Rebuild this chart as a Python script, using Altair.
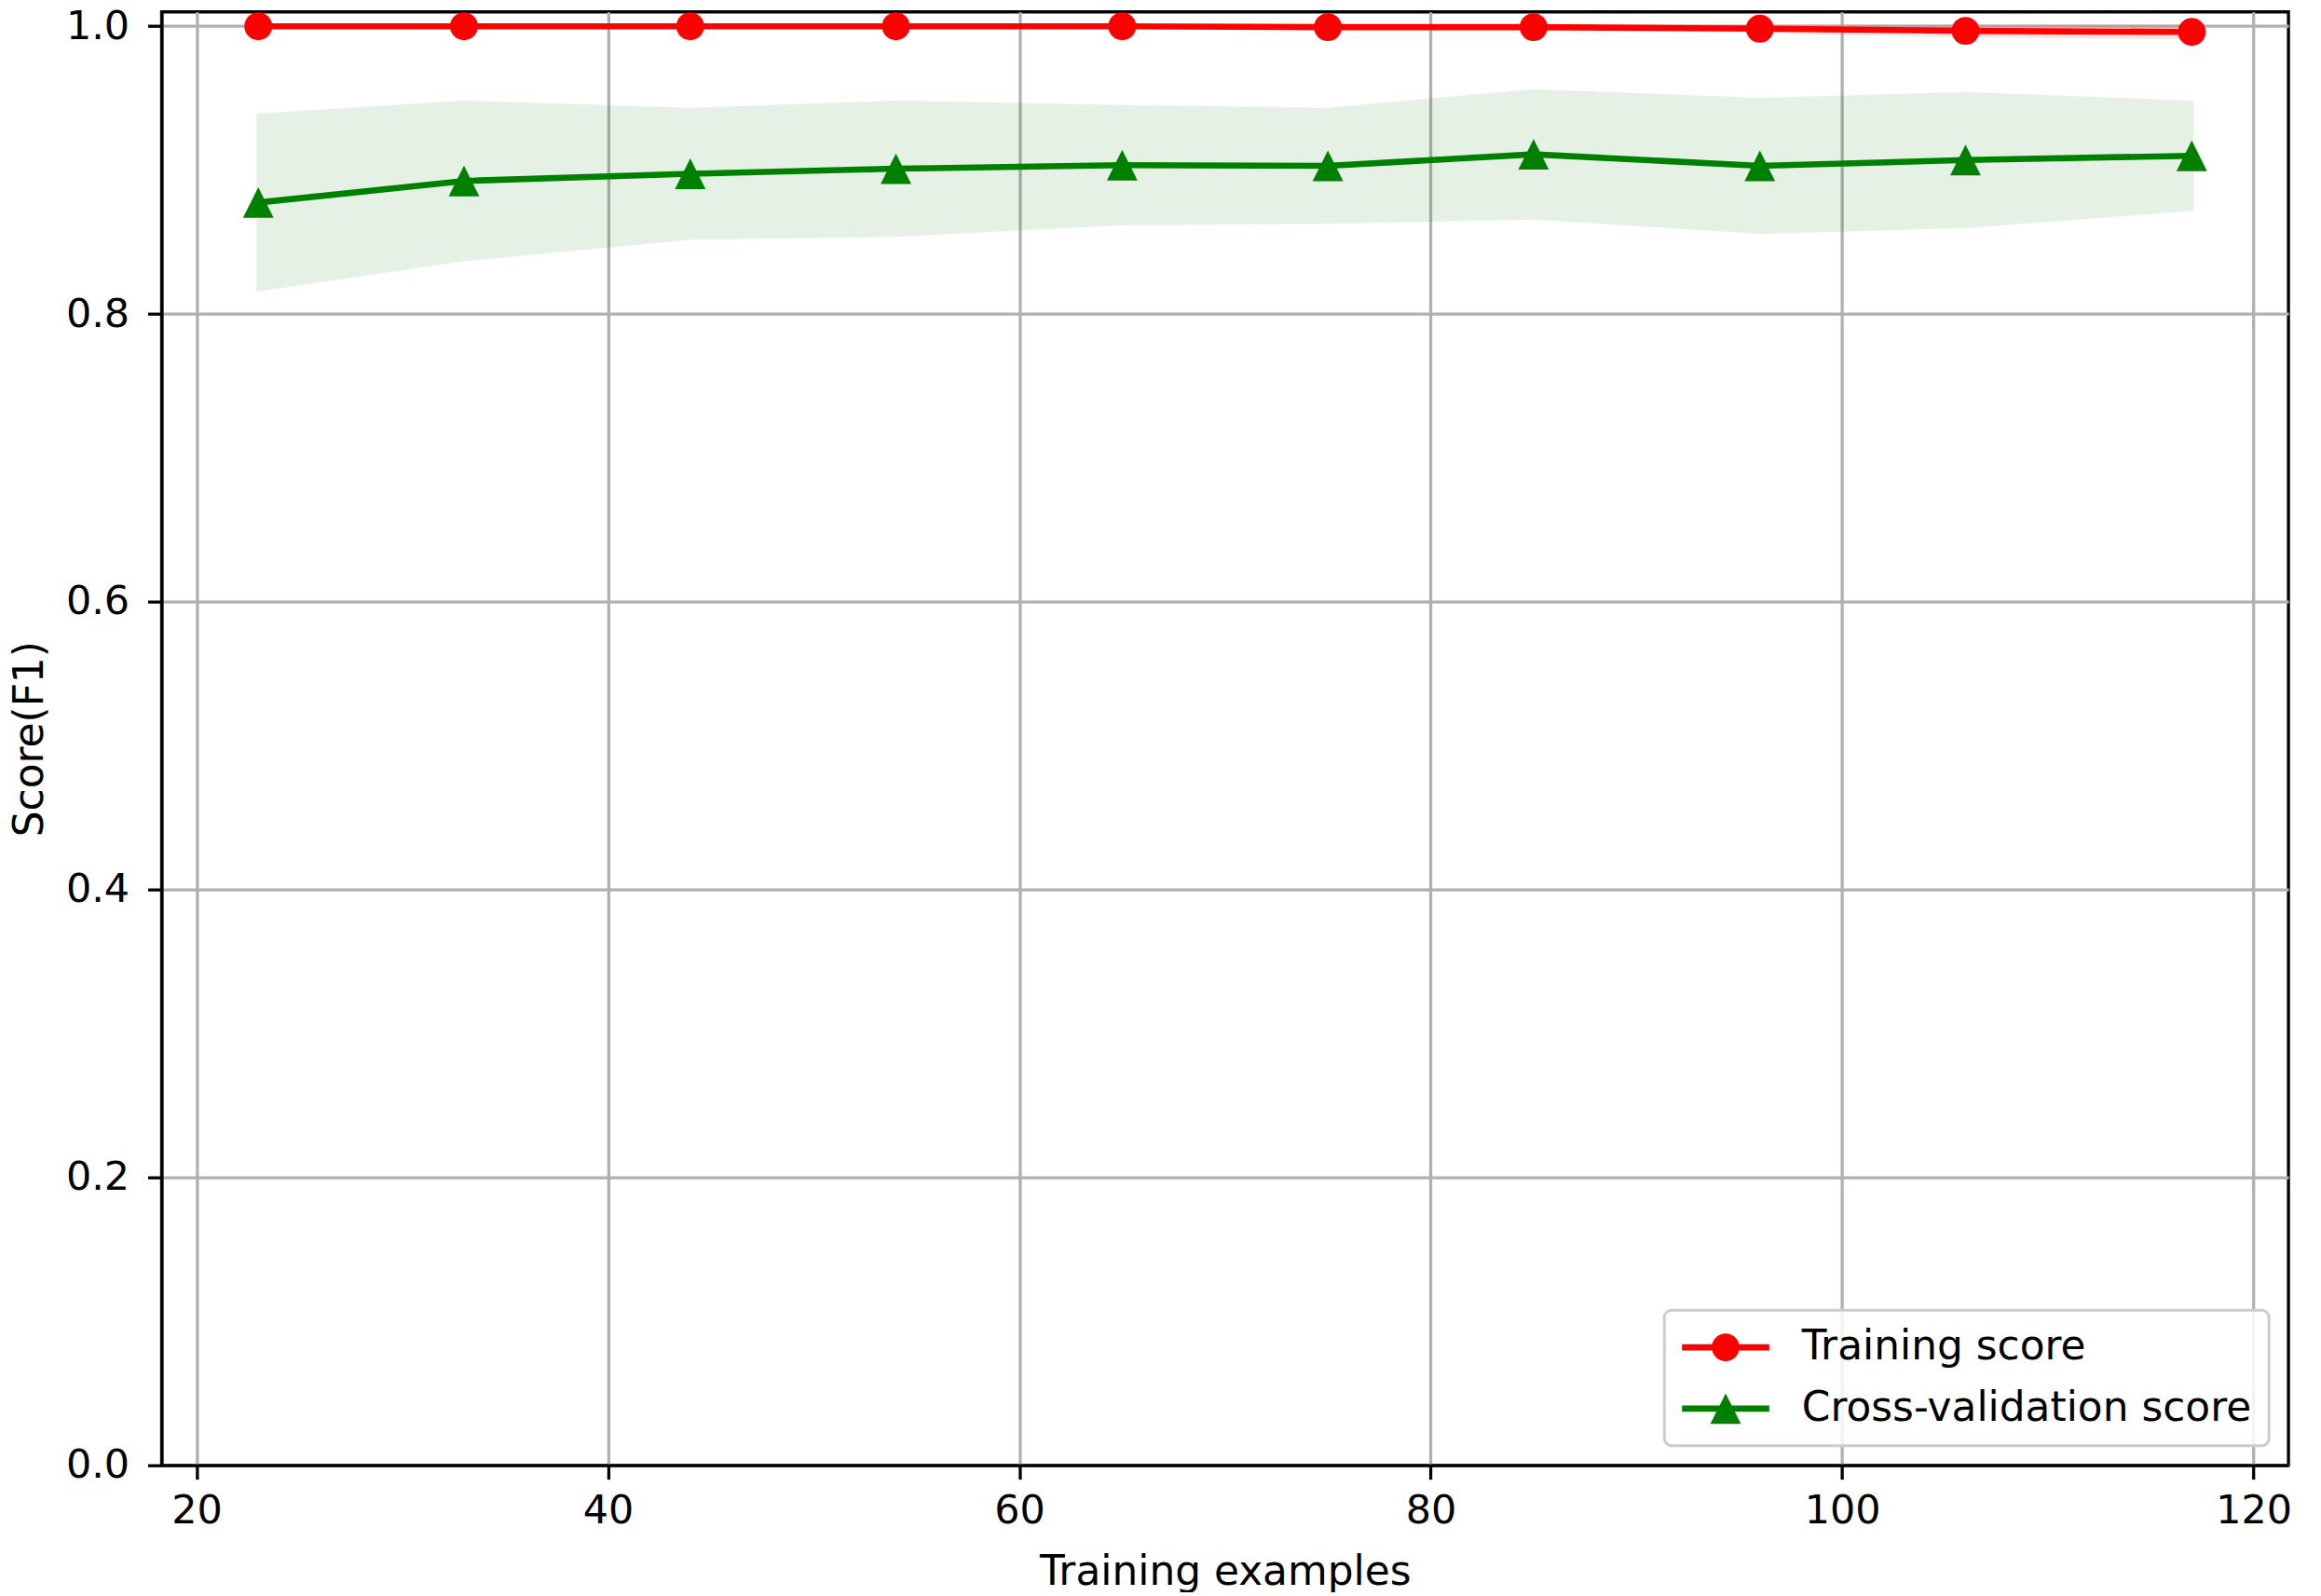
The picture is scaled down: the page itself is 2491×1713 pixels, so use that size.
import altair as alt
import pandas as pd

# ---- data ----
train_sizes = [23, 33, 44, 54, 65, 75, 85, 96, 106, 117]
train_mean = [1.0, 1.0, 1.0, 1.0, 1.0, 0.9994, 0.9994, 0.9983, 0.9968, 0.9961]
train_std = [0.0, 0.0, 0.0, 0.0, 0.0, 0.0008, 0.0008, 0.0017, 0.0032, 0.0039]
test_mean = [0.8775, 0.8925, 0.8975, 0.901, 0.9035, 0.903, 0.911, 0.903, 0.907, 0.910]
test_std = [0.0605, 0.0545, 0.0445, 0.046, 0.0405, 0.039, 0.044, 0.046, 0.046, 0.037]
series_names = ["Training score", "Cross-validation score"]
series_colors = ["#ff0000", "#008000"]
x_ticks = [20, 40, 60, 80, 100, 120]
y_ticks = [0.0, 0.2, 0.4, 0.6, 0.8, 1.0]

train_df = pd.DataFrame({
    "n": train_sizes,
    "score": train_mean,
    "lo": [m - s for m, s in zip(train_mean, train_std)],
    "hi": [m + s for m, s in zip(train_mean, train_std)],
})
test_df = pd.DataFrame({
    "n": train_sizes,
    "score": test_mean,
    "lo": [m - s for m, s in zip(test_mean, test_std)],
    "hi": [m + s for m, s in zip(test_mean, test_std)],
})
legend_df = pd.DataFrame({
    "series": series_names,
    "n": [train_sizes[0], train_sizes[0]],
    "score": [train_mean[0], test_mean[0]],
})

FONT = "DejaVu Sans"
# legend symbols: line + marker (unit = 22 px with symbolSize 44^2)
circle_legend = ("M-2.136,-0.155H2.136V0.155H-2.136Z "
                 "M-0.682,0A0.682,0.682 0 1,1 0.682,0A0.682,0.682 0 1,1 -0.682,0Z")
triangle_legend = ("M-2.136,-0.155H2.136V0.155H-2.136Z "
                   "M0,-0.75L0.75,0.75L-0.75,0.75Z")
triangle_marker = "M0,-1L1,1L-1,1Z"

y_scale = alt.Scale(domain=[0, 1.01], nice=False, zero=False)
x_enc = alt.X(
    "n:Q",
    scale=alt.Scale(domain=[18.3, 121.7], nice=False, zero=False),
    axis=alt.Axis(values=x_ticks, title="Training examples", format="d",
                  labelPadding=13, titlePadding=22),
)
y_axis = alt.Axis(values=y_ticks, title="Score(F1)", format=".1f",
                  labelPadding=20, titlePadding=16)
y_enc = alt.Y("score:Q", scale=y_scale, axis=y_axis)


def band(df, color):
    return alt.Chart(df).mark_area(
        color=color, opacity=0.1, stroke=color, strokeWidth=4, interpolate="linear"
    ).encode(x=x_enc, y=alt.Y("lo:Q", scale=y_scale, axis=y_axis), y2="hi:Q")


def line(df, color):
    return alt.Chart(df).mark_line(color=color, strokeWidth=6.6).encode(x=x_enc, y=y_enc)


def points(df, color, shape, size):
    return alt.Chart(df).mark_point(
        shape=shape, size=size, filled=True, color=color, opacity=1, strokeWidth=0
    ).encode(x=x_enc, y=y_enc)


legend_kw = dict(
    title=None, orient="bottom-right", offset=21,
    labelFont=FONT, labelFontSize=44, labelColor="black",
    labelOffset=60, labelLimit=2000,
    symbolSize=1936, symbolOffset=26, symbolStrokeWidth=0, symbolOpacity=1,
    rowPadding=22, padding=18,
    strokeColor="#cccccc", fillColor="rgba(255,255,255,0.85)", cornerRadius=8,
)

legend_layer = alt.Chart(legend_df).transform_filter("false").mark_point(
    filled=True, opacity=1
).encode(
    x=x_enc, y=y_enc,
    color=alt.Color("series:N", scale=alt.Scale(domain=series_names, range=series_colors),
                    legend=alt.Legend(**legend_kw)),
    shape=alt.Shape("series:N", scale=alt.Scale(domain=series_names,
                                                range=[circle_legend, triangle_legend]),
                    legend=alt.Legend(**legend_kw)),
)

chart = alt.layer(
    band(train_df, series_colors[0]),
    band(test_df, series_colors[1]),
    line(train_df, series_colors[0]),
    points(train_df, series_colors[0], "circle", 900),
    line(test_df, series_colors[1]),
    points(test_df, series_colors[1], triangle_marker, 1089),
    legend_layer,
).properties(
    width=2290, height=1565,
    autosize=alt.AutoSizeParams(type="none"),
    padding={"left": 166, "top": 2, "right": 27, "bottom": 134},
    background="white",
).configure_axis(
    domainColor="black", domainWidth=3.3,
    tickColor="black", tickWidth=3.3, tickSize=15,
    gridColor="#b0b0b0", gridWidth=3.3,
    labelFont=FONT, labelFontSize=43, labelColor="black",
    labelFlush=False, labelOverlap=False,
    titleFont=FONT, titleFontSize=44, titleFontWeight="normal", titleColor="black",
).configure_view(
    stroke="black", strokeWidth=3.3,
).configure_legend(
    strokeWidth=3,
)

chart.save("out.html", embed_options={"renderer": "svg", "actions": False})
